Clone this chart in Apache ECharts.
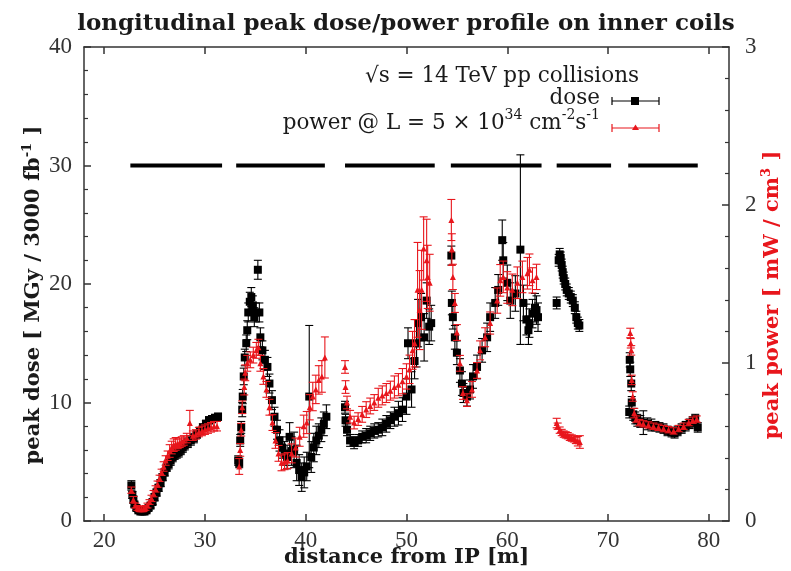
<!DOCTYPE html>
<html>
<head>
<meta charset="utf-8">
<script src="https://cdn.jsdelivr.net/npm/echarts@6/dist/echarts.min.js"></script>
<style>html,body{margin:0;padding:0;background:#fff}#c{width:791px;height:571px}</style>
</head>
<body>
<div id="c"></div>
<script>
// ---- data (distance from IP [m]) ----
const magnetStart = [22.6, 33.1, 43.9, 54.4, 64.9, 72.0];
const magnetEnd   = [31.7, 41.9, 52.8, 63.4, 70.3, 78.9];
const magnetLevel = 30;

// peak dose [MGy / 3000 fb^-1]
const doseX = [
  22.7,22.8,22.9,23.0,23.2,23.4,23.6,23.8,24.0,24.2,24.4,24.6,24.8,25.0,25.2,25.4,25.6,25.8,26.0,26.2,26.4,26.6,26.8,27.0,27.2,27.4,27.6,27.8,28.0,28.3,28.6,28.9,29.2,29.5,29.8,30.1,30.4,30.7,31.0,31.3,
  33.3,33.4,33.5,33.6,33.7,33.75,33.85,33.95,34.1,34.2,34.3,34.45,34.6,34.75,34.9,35.05,35.25,35.4,35.5,35.7,35.95,36.2,36.4,36.65,36.9,37.15,37.4,37.65,37.9,38.15,38.4,38.6,38.85,39.1,39.35,39.6,39.85,40.1,40.35,40.55,40.8,41.05,41.3,41.55,41.8,42.05,
  43.9,43.95,44.1,44.4,44.8,45.2,45.6,46.0,46.4,46.8,47.2,47.6,48.0,48.4,48.8,49.2,49.6,50.0,50.15,50.5,50.8,51.0,51.15,51.45,51.75,52.0,52.25,52.45,
  54.45,54.5,54.6,54.8,55.0,55.3,55.5,55.65,56.0,56.3,56.6,57.0,57.5,58.0,58.3,58.8,59.1,59.5,59.6,60.0,60.3,60.8,61.3,61.6,61.9,62.1,62.2,62.5,62.75,62.9,63.05,
  64.9,65.1,65.2,65.3,65.4,65.5,65.6,65.75,65.9,66.1,66.3,66.5,66.7,66.85,67.0,67.15,
  72.15,72.2,72.3,72.35,72.1,72.5,72.7,72.9,73.2,73.5,73.9,74.3,74.7,75.1,75.5,75.9,76.3,76.6,76.9,77.3,77.7,78.1,78.4,78.65,78.9
];
const doseVal = [
  3.0,2.2,1.8,1.4,1.1,0.9,0.8,0.8,0.8,0.9,1.1,1.3,1.6,2.0,2.4,2.8,3.2,3.7,4.1,4.5,4.8,5.1,5.4,5.6,5.7,5.8,6.0,6.2,6.4,6.6,6.8,7.0,7.3,7.6,7.9,8.2,8.5,8.6,8.7,8.8,
  5.1,4.9,6.8,7.9,9.4,10.5,12.2,13.8,15.0,16.1,17.6,18.5,18.9,18.2,17.2,17.6,21.2,17.6,15.5,14.4,13.6,13.0,11.6,10.2,8.8,7.7,6.8,6.2,5.7,5.4,7.1,5.9,6.0,4.9,4.3,3.7,4.1,4.6,10.5,5.4,6.2,6.8,7.2,7.7,8.2,8.8,
  9.6,8.5,7.7,6.8,6.6,6.8,7.1,7.2,7.4,7.6,7.7,7.9,8.2,8.5,8.8,9.1,9.4,10.5,15.0,11.1,13.5,15.0,16.7,17.2,15.5,18.6,16.4,16.7,
  22.4,18.4,17.2,15.5,14.2,12.7,11.6,10.8,10.5,11.1,12.2,13.0,14.4,15.5,17.2,18.4,19.5,23.7,22.0,20.1,18.6,19.2,22.9,18.4,17.0,16.1,16.7,17.5,18.0,17.8,17.2,
  18.4,22.0,22.5,22.2,21.6,21.0,20.5,20.0,19.5,19.2,18.9,18.6,18.0,17.2,16.7,16.5,
  13.6,12.8,11.6,10.0,9.2,9.0,8.7,8.5,8.4,8.3,8.2,8.1,8.0,7.9,7.8,7.6,7.5,7.4,7.6,7.8,8.0,8.2,8.4,8.6,7.9
];
const doseErr = [
  0.4,0.3,0.3,0.2,0.2,0.2,0.2,0.2,0.2,0.2,0.2,0.2,0.2,0.3,0.3,0.3,0.3,0.3,0.3,0.3,0.4,0.4,0.4,0.4,0.4,0.4,0.4,0.4,0.4,0.4,0.4,0.4,0.3,0.3,0.3,0.3,0.3,0.3,0.3,0.3,
  0.4,0.4,0.5,0.5,0.6,0.6,0.7,0.7,0.7,0.8,0.8,0.8,0.8,0.8,0.8,0.8,0.8,0.8,0.8,0.8,0.8,0.8,0.8,0.8,0.8,0.8,0.9,0.9,1.0,1.0,1.2,1.2,1.5,1.5,1.3,1.2,1.3,1.2,6.0,1.3,1.2,1.2,1.0,1.0,1.0,1.0,
  0.5,0.5,0.5,0.5,0.5,0.5,0.5,0.6,0.6,0.6,0.6,0.7,0.7,0.7,0.8,1.0,1.0,1.5,1.3,1.5,1.5,2.0,2.0,2.0,2.0,1.5,1.5,1.5,
  0.8,1.0,1.0,1.0,1.0,1.0,1.0,0.8,0.8,0.8,1.0,1.0,1.0,1.2,1.2,1.3,1.3,1.7,1.5,1.5,1.5,1.5,8.0,1.5,1.3,1.2,1.2,1.2,1.2,1.2,1.2,
  0.5,0.5,0.5,0.5,0.5,0.5,0.5,0.5,0.5,0.5,0.5,0.5,0.5,0.5,0.5,0.5,
  0.6,0.6,0.6,0.5,0.5,0.5,0.5,0.5,0.5,1.0,0.5,0.5,0.4,0.4,0.4,0.4,0.4,0.4,0.4,0.4,0.4,0.4,0.4,0.4,0.4
];

// peak power [mW / cm^3] at L = 5e34
const powerX = [
  22.7,22.9,23.1,23.3,23.5,23.7,23.9,24.1,24.3,24.5,24.7,24.9,25.1,25.3,25.5,25.7,25.9,26.1,26.3,26.5,26.7,26.9,27.1,27.3,27.5,27.7,27.9,28.2,28.5,28.8,29.1,29.4,29.7,30.0,30.3,30.6,30.9,31.2,
  33.4,33.5,33.6,33.7,33.9,34.0,34.2,34.5,34.8,35.1,35.3,35.5,35.8,36.1,36.4,36.7,37.0,37.3,37.6,37.9,38.2,38.6,39.0,39.4,39.8,40.1,40.4,40.7,41.0,41.3,41.6,41.9,
  43.9,43.95,44.1,44.4,44.8,45.2,45.6,46.0,46.4,46.8,47.2,47.6,48.0,48.4,48.8,49.2,49.6,50.0,50.3,50.6,50.8,51.1,51.3,51.5,51.7,52.0,52.1,52.3,
  54.45,54.5,54.6,54.8,55.0,55.3,55.6,56.0,56.5,57.0,57.3,57.8,58.3,59.0,59.3,59.6,60.0,60.5,61.0,61.5,62.0,62.2,62.5,62.9,
  64.9,65.0,65.2,65.4,65.6,65.8,66.0,66.2,66.4,66.6,66.8,67.0,67.2,
  72.2,72.25,72.3,72.35,72.45,72.6,72.8,73.1,73.5,74.0,74.5,75.0,75.5,76.0,76.5,77.0,77.5,78.0,78.4,78.8
];
const powerVal = [
  0.195,0.135,0.098,0.083,0.075,0.075,0.075,0.083,0.098,0.12,0.143,0.173,0.203,0.233,0.27,0.308,0.345,0.383,0.413,0.443,0.465,0.48,0.488,0.488,0.495,0.503,0.51,0.525,0.62,0.54,0.548,0.563,0.57,0.578,0.585,0.593,0.6,0.6,
  0.345,0.45,0.578,0.72,0.848,0.938,0.998,1.02,1.05,1.08,1.10,0.998,0.915,0.833,0.72,0.623,0.51,0.428,0.368,0.375,0.383,0.428,0.465,0.533,0.6,0.623,0.72,0.788,0.833,0.893,0.915,1.035,
  0.975,0.848,0.75,0.66,0.623,0.645,0.675,0.705,0.728,0.75,0.78,0.795,0.81,0.825,0.848,0.863,0.885,0.915,0.96,1.08,1.125,1.463,1.335,1.463,1.725,1.65,1.545,1.508,
  1.905,1.718,1.545,1.38,1.193,0.998,0.81,0.765,0.833,0.953,1.08,1.163,1.253,1.395,1.523,1.545,1.478,1.463,1.508,1.545,1.568,1.59,1.523,1.545,
  0.62,0.6,0.575,0.56,0.55,0.545,0.54,0.53,0.525,0.52,0.51,0.505,0.5,
  1.19,1.125,1.08,0.893,0.788,0.683,0.645,0.623,0.615,0.608,0.6,0.593,0.585,0.578,0.57,0.585,0.6,0.623,0.638,0.645
];
const powerErr = [
  0.02,0.02,0.015,0.015,0.015,0.015,0.015,0.015,0.015,0.015,0.02,0.02,0.02,0.02,0.02,0.02,0.03,0.03,0.03,0.04,0.04,0.04,0.04,0.03,0.03,0.03,0.03,0.03,0.08,0.03,0.03,0.03,0.03,0.03,0.03,0.03,0.03,0.03,
  0.05,0.04,0.04,0.04,0.05,0.05,0.05,0.05,0.05,0.05,0.05,0.05,0.05,0.05,0.05,0.05,0.05,0.05,0.05,0.05,0.05,0.06,0.06,0.06,0.07,0.07,0.08,0.09,0.09,0.09,0.1,0.13,
  0.04,0.04,0.04,0.04,0.04,0.04,0.05,0.05,0.05,0.05,0.06,0.06,0.06,0.06,0.07,0.07,0.08,0.08,0.09,0.12,0.15,0.3,0.25,0.25,0.2,0.26,0.2,0.18,
  0.13,0.1,0.08,0.06,0.05,0.05,0.04,0.04,0.05,0.05,0.06,0.06,0.07,0.08,0.1,0.1,0.1,0.1,0.1,0.1,0.1,0.1,0.08,0.08,
  0.03,0.02,0.02,0.02,0.02,0.02,0.02,0.02,0.02,0.02,0.02,0.03,0.04,
  0.03,0.03,0.03,0.03,0.03,0.03,0.02,0.02,0.02,0.02,0.02,0.02,0.02,0.02,0.02,0.02,0.02,0.02,0.02,0.02
];

const xTicks = [20, 30, 40, 50, 60, 70, 80];

// ---- build ----
const RED = '#e8161c';
const SERIF = '"DejaVu Serif", "Liberation Serif", serif';
const NUMF = '"Liberation Serif", "DejaVu Serif", serif';
const doseData = doseX.map((x, i) => [x, doseVal[i], doseErr[i]]);
const powerData = powerX.map((x, i) => [x, powerVal[i], powerErr[i]]);
const magnetData = magnetStart.map((s, i) => [s, magnetEnd[i], magnetLevel]);

function errRender(color) {
  return function (params, api) {
    const x = api.value(0), y = api.value(1), e = api.value(2);
    const lo = api.coord([x, y - e]);
    const hi = api.coord([x, y + e]);
    const c = 4;
    const st = { stroke: color, lineWidth: 1.1 };
    return {
      type: 'group',
      children: [
        { type: 'line', shape: { x1: lo[0], y1: lo[1], x2: hi[0], y2: hi[1] }, style: st },
        { type: 'line', shape: { x1: lo[0] - c, y1: lo[1], x2: lo[0] + c, y2: lo[1] }, style: st },
        { type: 'line', shape: { x1: hi[0] - c, y1: hi[1], x2: hi[0] + c, y2: hi[1] }, style: st }
      ]
    };
  };
}

const axisLineStyle = { color: '#333', width: 1.5 };
const chart = echarts.init(document.getElementById('c'), null, { renderer: 'canvas' });
chart.setOption({
  backgroundColor: '#fff',
  animation: false,
  title: {
    text: 'longitudinal peak dose/power profile on inner coils',
    left: 401, top: 8, textAlign: 'center',
    textStyle: { fontFamily: SERIF, fontWeight: 'bold', fontSize: 23, color: '#1a1a1a' }
  },
  grid: { left: 84, top: 47, width: 645, height: 474, show: false, containLabel: false, outerBoundsMode: 'none' },
  xAxis: [{
    type: 'value', min: 18, max: 82, position: 'bottom',
    name: 'distance from IP [m]', nameLocation: 'middle', nameGap: 26, nameMoveOverlap: false,
    nameTextStyle: { fontFamily: SERIF, fontWeight: 'bold', fontSize: 21, color: '#1a1a1a' },
    axisLine: { show: true, onZero: false, lineStyle: axisLineStyle },
    axisTick: { show: true, inside: true, length: 7, customValues: xTicks, lineStyle: axisLineStyle },
    axisLabel: { customValues: xTicks, margin: 8, fontFamily: NUMF, fontSize: 23, color: '#333' },
    splitLine: { show: false }
  }, {
    type: 'value', min: 18, max: 82, position: 'top',
    axisLine: { show: true, onZero: false, lineStyle: axisLineStyle },
    axisTick: { show: true, inside: true, length: 7, customValues: xTicks, lineStyle: axisLineStyle },
    axisLabel: { show: false }, splitLine: { show: false }
  }],
  yAxis: [{
    type: 'value', min: 0, max: 40, interval: 10, position: 'left',
    name: 'peak dose [ MGy / 3000 fb{sup|-1} ]', nameLocation: 'middle', nameGap: 37, nameMoveOverlap: false,
    nameTextStyle: {
      fontFamily: SERIF, fontWeight: 'bold', fontSize: 21, color: '#1a1a1a', lineHeight: 26,
      padding: [0, 22, 0, 0],
      rich: { sup: { fontFamily: SERIF, fontWeight: 'bold', fontSize: 13, lineHeight: 13, verticalAlign: 'top', color: '#1a1a1a' } }
    },
    axisLine: { show: true, onZero: false, lineStyle: axisLineStyle },
    axisTick: { show: true, inside: true, length: 7, lineStyle: axisLineStyle },
    minorTick: { show: true, splitNumber: 5, length: 4, lineStyle: { color: '#333', width: 1.2 } },
    axisLabel: { margin: 12, fontFamily: NUMF, fontSize: 23, color: '#333' },
    splitLine: { show: false }
  }, {
    type: 'value', min: 0, max: 3, interval: 1, position: 'right',
    name: 'peak power [ mW / cm{sup|3} ]', nameLocation: 'middle', nameGap: 31, nameMoveOverlap: false,
    nameTextStyle: {
      fontFamily: SERIF, fontWeight: 'bold', fontSize: 21, color: RED, lineHeight: 26,
      padding: [0, 22, 0, 0],
      rich: { sup: { fontFamily: SERIF, fontWeight: 'bold', fontSize: 13, lineHeight: 13, verticalAlign: 'top', color: RED } }
    },
    axisLine: { show: true, onZero: false, lineStyle: axisLineStyle },
    axisTick: { show: true, inside: true, length: 7, lineStyle: axisLineStyle },
    minorTick: { show: true, splitNumber: 5, length: 4, lineStyle: { color: '#333', width: 1.2 } },
    axisLabel: { margin: 16, fontFamily: NUMF, fontSize: 23, color: '#333' },
    splitLine: { show: false }
  }],
  series: [
    {
      type: 'custom', name: 'magnets', xAxisIndex: 0, yAxisIndex: 0, data: magnetData, z: 2,
      encode: { x: [0, 1], y: 2 },
      renderItem: function (params, api) {
        const a = api.coord([api.value(0), api.value(2)]);
        const b = api.coord([api.value(1), api.value(2)]);
        return { type: 'line', shape: { x1: a[0], y1: a[1], x2: b[0], y2: b[1] }, style: { stroke: '#000', lineWidth: 4 } };
      }
    },
    {
      type: 'custom', name: 'dose err', xAxisIndex: 0, yAxisIndex: 0, data: doseData, z: 3,
      encode: { x: 0, y: 1 }, renderItem: errRender('#000')
    },
    {
      type: 'scatter', name: 'dose', xAxisIndex: 0, yAxisIndex: 0, z: 4,
      data: doseData, symbol: 'rect', symbolSize: 8, itemStyle: { color: '#000', opacity: 1 }
    },
    {
      type: 'custom', name: 'power err', xAxisIndex: 0, yAxisIndex: 1, data: powerData, z: 5,
      encode: { x: 0, y: 1 }, renderItem: errRender(RED)
    },
    {
      type: 'scatter', name: 'power', xAxisIndex: 0, yAxisIndex: 1, z: 6,
      data: powerData, symbol: 'triangle', symbolSize: 6, itemStyle: { color: RED, opacity: 1 }
    }
  ],
  graphic: [
    { type: 'text', left: 365, top: 65, style: { text: '√s = 14 TeV pp collisions', font: '21.5px ' + SERIF, fill: '#1a1a1a' } },
    { type: 'text', right: 191, top: 87, style: { text: 'dose', font: '21.5px ' + SERIF, fill: '#1a1a1a', align: 'right' } },
    {
      type: 'text', right: 191, top: 108,
      style: {
        text: 'power @ L = 5 × 10{sup|34} cm{sup|-2}s{sup|-1}', font: '21.5px ' + SERIF, fill: '#1a1a1a', align: 'right',
        lineHeight: 30,
        rich: { sup: { font: '14px ' + SERIF, fill: '#1a1a1a', lineHeight: 14, verticalAlign: 'top' } }
      }
    },
    { type: 'line', shape: { x1: 612, y1: 101, x2: 659, y2: 101 }, style: { stroke: '#000', lineWidth: 1.2 } },
    { type: 'line', shape: { x1: 612, y1: 97, x2: 612, y2: 105 }, style: { stroke: '#000', lineWidth: 1.2 } },
    { type: 'line', shape: { x1: 659, y1: 97, x2: 659, y2: 105 }, style: { stroke: '#000', lineWidth: 1.2 } },
    { type: 'rect', shape: { x: 631, y: 97, width: 8, height: 8 }, style: { fill: '#000' } },
    { type: 'line', shape: { x1: 612, y1: 128, x2: 659, y2: 128 }, style: { stroke: RED, lineWidth: 1.2 } },
    { type: 'line', shape: { x1: 612, y1: 124, x2: 612, y2: 132 }, style: { stroke: RED, lineWidth: 1.2 } },
    { type: 'line', shape: { x1: 659, y1: 124, x2: 659, y2: 132 }, style: { stroke: RED, lineWidth: 1.2 } },
    { type: 'polygon', shape: { points: [[635.5, 124.5], [632, 130], [639, 130]] }, style: { fill: RED } }
  ]
});
</script>
</body>
</html>
